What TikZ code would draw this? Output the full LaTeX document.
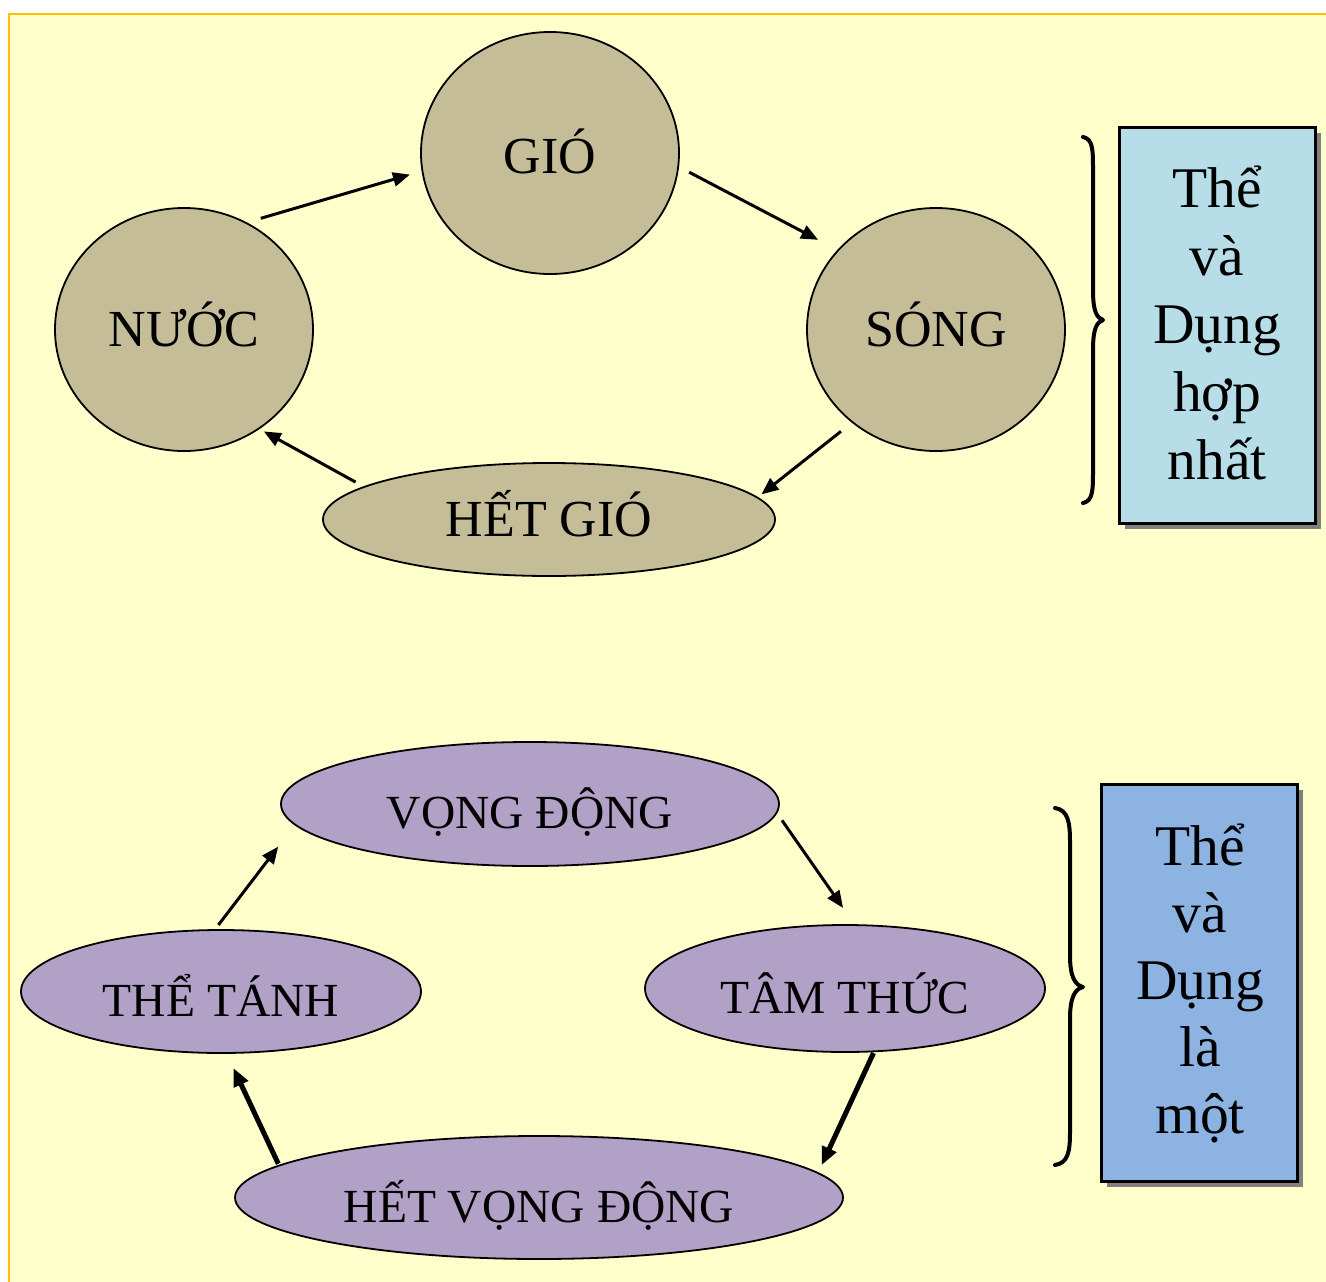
\documentclass[tikz,border=0pt]{standalone}
\usepackage{fontspec}
\setmainfont{Liberation Serif}
\usetikzlibrary{shapes.geometric,arrows.meta,shadows}
\definecolor{bgyellow}{HTML}{FFFFCC}
\definecolor{frameorange}{HTML}{FFC000}
\definecolor{tan}{HTML}{C4BD97}
\definecolor{lilac}{HTML}{B2A1C7}
\definecolor{lightblue}{HTML}{B7DEE8}
\definecolor{midblue}{HTML}{8DB3E2}
\begin{document}
\begin{tikzpicture}[x=1pt,y=-1pt,
  circ/.style={ellipse, draw=black, line width=1.8pt, fill=tan, inner sep=0pt, outer sep=0pt,
    font=\fontsize{52}{52}\selectfont, text height=34.4pt, text depth=0pt},
  oval/.style={ellipse, draw=black, line width=1.8pt, fill=lilac, inner sep=0pt, outer sep=0pt,
    font=\fontsize{47.5}{47.5}\selectfont, text height=49.4pt, text depth=0pt},
  conn/.style={-{Triangle[length=17pt,width=14pt]}, line width=3pt},
  thickconn/.style={-{Triangle[length=18pt,width=15pt]}, line width=5pt},
  sidebox/.style={rectangle, draw=black, line width=3pt, minimum width=196pt, minimum height=396pt,
    inner sep=0pt, drop shadow={shadow xshift=6pt, shadow yshift=-6pt, fill=black!50, opacity=1}},
  boxtxt/.style={anchor=base, inner sep=0pt, font=\fontsize{57.5}{57.5}\selectfont},
  bracestyle/.style={line width=4pt, line cap=round, line join=round}
]
\useasboundingbox (0,0) rectangle (1326,1282);
\fill[white] (0,0) rectangle (1326,1282);
\fill[bgyellow] (9,14.3) rectangle (1326,1282);
\draw[frameorange, line width=2pt] (9,1282) -- (9,14.3) -- (1326,14.3);

% top cycle
\node[circ, minimum width=258pt, minimum height=242pt, text height=40pt] (gio) at (550,153) {GIÓ};
\node[circ, minimum width=258pt, minimum height=243pt] (nuoc) at (184,329.5) {NƯỚC};
\node[circ, minimum width=258pt, minimum height=243pt] (song) at (936,329.5) {SÓNG};
\node[circ, minimum width=452pt, minimum height=113pt] (hetgio) at (549,519.5) {HẾT GIÓ};

\draw[conn, shorten <=15.8pt, shorten >=13pt] (nuoc.60.4) -- (gio.188.2);
\draw[conn, shorten <=12.4pt, shorten >=22.6pt] (gio.-6.8) -- (song.141.8);
\draw[conn, shorten <=14.8pt, shorten >=5.2pt] (song.228.9) -- (hetgio.6.9);
\draw[conn, shorten <=10pt, shorten >=5.9pt] (hetgio.170.4) -- (nuoc.-53.4);

% bottom cycle
\node[oval, minimum width=498pt, minimum height=124pt] (vongdong) at (530,804) {VỌNG ĐỘNG};
\node[oval, minimum width=400pt, minimum height=123pt] (thetanh) at (221,991.5) {THỂ TÁNH};
\node[oval, minimum width=400pt, minimum height=127pt] (tamthuc) at (845,988.5) {TÂM THỨC};
\node[oval, minimum width=608pt, minimum height=123pt] (hetvd) at (539,1197.5) {HẾT VỌNG ĐỘNG};

\draw[conn, shorten <=6.4pt, shorten >=27.7pt] (thetanh.96.5) -- (vongdong.185.5);
\draw[conn, shorten <=9.4pt, shorten >=20.9pt] (vongdong.-2.4) -- (tamthuc.81.8);
\draw[thickconn, shorten <=1.9pt, shorten >=8.9pt] (tamthuc.-65.4) -- (hetvd.5.5);
\draw[thickconn, shorten <=2pt, shorten >=16.7pt] (hetvd.173.3) -- (thetanh.-85.7);

% braces
\draw[bracestyle] (1083,137) .. controls (1093,139) and (1093,150) .. (1093,170) -- (1093,290)
  .. controls (1093,312) and (1097,318) .. (1103,320) .. controls (1097,322) and (1093,328) .. (1093,350)
  -- (1093,470) .. controls (1093,490) and (1093,501) .. (1083,503);
\draw[bracestyle] (1055,808) .. controls (1068,810) and (1070,822) .. (1070,842) -- (1070,955)
  .. controls (1070,977) and (1075,985) .. (1083,987) .. controls (1075,989) and (1070,997) .. (1070,1019)
  -- (1070,1132) .. controls (1070,1152) and (1068,1163) .. (1055,1165);

% side boxes
\node[sidebox, fill=lightblue] (box1) at (1217,325) {};
\foreach \t [count=\i from 0] in {Thể, và, Dụng, hợp, nhất}
  \node[boxtxt] (ta\i) at (1217,{207+68*\i}) {\t};
\node[sidebox, fill=midblue, minimum height=397pt] (box2) at (1199,982.5) {};
\foreach \t [count=\i from 0] in {Thể, và, Dụng, là, một}
  \node[boxtxt] (tb\i) at (1200,{865+67*\i}) {\t};
\end{tikzpicture}
\end{document}
